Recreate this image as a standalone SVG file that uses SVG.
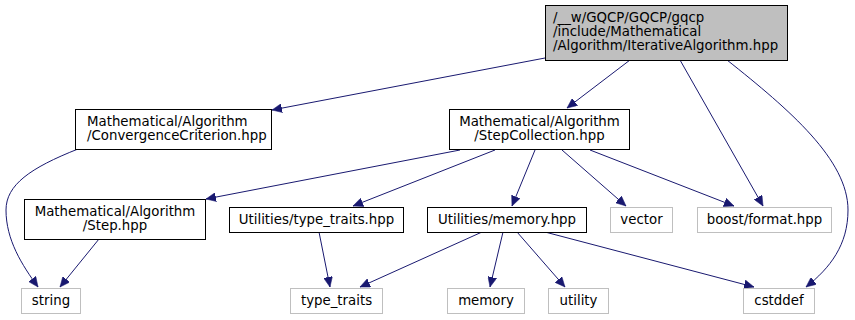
<svg xmlns="http://www.w3.org/2000/svg" width="855" height="320" viewBox="0 0 855 320">
<style>
  text { font-family: "DejaVu Sans", "Liberation Sans", sans-serif; font-size: 13.33px; fill: #000; }
  .n rect { fill: #fff; stroke: #000; stroke-width: 1; }
  .ext rect { fill: #fff; stroke: #bfbfbf; stroke-width: 1; }
  .root rect { fill: #bfbfbf; stroke: #000; stroke-width: 1; }
  .c { text-anchor: middle; }
  #edges path { fill: none; stroke: #191970; stroke-width: 1; marker-end: url(#ah); }
</style>
<defs>
  <marker id="ah" markerUnits="userSpaceOnUse" markerWidth="11" markerHeight="9" refX="10" refY="4.5" orient="auto">
    <path d="M0,0 L10,4.5 L0,9 Z" fill="#191970" stroke="#191970" stroke-width="0.5"/>
  </marker>
</defs>
<rect width="855" height="320" fill="#fff"/>

<g id="edges">
  <path d="M545,58 L272,110"/>
  <path d="M630,60 L567,108"/>
  <path d="M680,60 L763,206"/>
  <path d="M727,60 C790,110 848,160 848,210 C848,245 830,268 806,287"/>
  <path d="M78,149 C30,168 6,185 6,210 C6,240 22,265 38,287"/>
  <path d="M460,150 L206,199"/>
  <path d="M495,150 L353,206"/>
  <path d="M535,150 L512,206"/>
  <path d="M562,150 L626,206"/>
  <path d="M590,150 L734,206"/>
  <path d="M99,239 L60,287"/>
  <path d="M319,232 L330,287"/>
  <path d="M482,232 L360,287"/>
  <path d="M503,232 L490,287"/>
  <path d="M517,232 L565,287"/>
  <path d="M545,232 L754,287"/>
</g>

<g id="node-root" class="root">
  <rect x="545.5" y="5.5" width="242" height="55"/>
  <text x="553" y="22">/__w/GQCP/GQCP/gqcp</text>
  <text x="553" y="36">/include/Mathematical</text>
  <text x="553" y="50">/Algorithm/IterativeAlgorithm.hpp</text>
</g>
<g id="node-convergence" class="n">
  <rect x="75.5" y="109.5" width="196" height="40"/>
  <text x="87" y="126">Mathematical/Algorithm</text>
  <text x="87" y="140">/ConvergenceCriterion.hpp</text>
</g>
<g id="node-stepcollection" class="n">
  <rect x="449.5" y="109.5" width="180" height="40"/>
  <text class="c" x="539.5" y="126">Mathematical/Algorithm</text>
  <text class="c" x="539.5" y="140">/StepCollection.hpp</text>
</g>
<g id="node-step" class="n">
  <rect x="24.5" y="199.5" width="181" height="40"/>
  <text class="c" x="115" y="216">Mathematical/Algorithm</text>
  <text class="c" x="115" y="230">/Step.hpp</text>
</g>
<g id="node-typetraits-hpp" class="n">
  <rect x="229.5" y="207.5" width="174" height="25"/>
  <text class="c" x="316.5" y="224">Utilities/type_traits.hpp</text>
</g>
<g id="node-memory-hpp" class="n">
  <rect x="427.5" y="207.5" width="159" height="25"/>
  <text class="c" x="507" y="224">Utilities/memory.hpp</text>
</g>
<g id="node-vector" class="ext">
  <rect x="610.5" y="207.5" width="62" height="25"/>
  <text class="c" x="641.5" y="224">vector</text>
</g>
<g id="node-boost-format" class="ext">
  <rect x="697.5" y="207.5" width="134" height="25"/>
  <text class="c" x="764.5" y="224">boost/format.hpp</text>
</g>
<g id="node-string" class="ext">
  <rect x="21.5" y="288.5" width="59" height="25"/>
  <text class="c" x="51" y="305">string</text>
</g>
<g id="node-type-traits" class="ext">
  <rect x="290.5" y="288.5" width="92" height="25"/>
  <text class="c" x="336.5" y="305">type_traits</text>
</g>
<g id="node-memory" class="ext">
  <rect x="447.5" y="288.5" width="77" height="25"/>
  <text class="c" x="486" y="305">memory</text>
</g>
<g id="node-utility" class="ext">
  <rect x="548.5" y="288.5" width="60" height="25"/>
  <text class="c" x="578.5" y="305">utility</text>
</g>
<g id="node-cstddef" class="ext">
  <rect x="743.5" y="288.5" width="71" height="25"/>
  <text class="c" x="779" y="305">cstddef</text>
</g>
</svg>
